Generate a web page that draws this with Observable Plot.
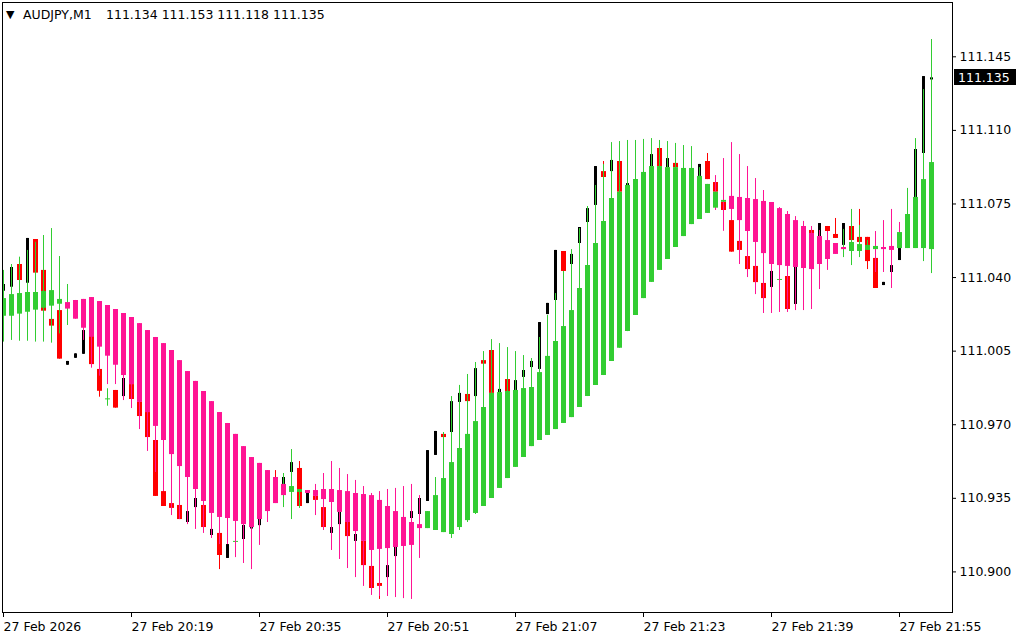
<!DOCTYPE html>
<html><head><meta charset="utf-8">
<script src="https://cdn.jsdelivr.net/npm/d3@7"></script>
<script src="https://cdn.jsdelivr.net/npm/@observablehq/plot@0.6"></script>
<style>
html,body{margin:0;padding:0;background:#fff;}
#chart{position:relative;width:1024px;height:640px;}
</style></head><body><div id="chart"></div>
<script>
const symbol = "AUDJPY,M1";
const timeLabels = ["27 Feb 2026","27 Feb 20:19","27 Feb 20:35","27 Feb 20:51","27 Feb 21:07","27 Feb 21:23","27 Feb 21:39","27 Feb 21:55"];
const timeLabelBars = [0,16,32,48,64,80,96,112];
const priceTicks = [110.900,110.935,110.970,111.005,111.040,111.075,111.110,111.145];

// M1 candles (one per minute, 20:03 .. 21:59)
const candleOpen = [
111.0335,111.0354,111.0462,111.0373,111.0581,111.0434,111.0201,111.0243,110.9983,111.0016,
111.0035,111.0148,110.9963,110.9823,110.9863,110.9834,110.9891,110.9806,110.9758,110.9625,
110.9382,110.9325,110.9316,110.9235,110.9306,110.9316,110.9173,110.9183,110.9064,110.9145,
110.9154,110.9204,110.9220,110.9300,110.9440,110.9416,110.9473,110.9492,110.9325,110.9359,
110.9306,110.9183,110.9225,110.9235,110.9145,110.9145,110.9026,110.8945,110.8973,110.9073,
110.9125,110.9254,110.9273,110.9335,110.9554,110.9654,110.9663,110.9806,110.9844,110.9834,
111.0005,111.0053,110.9853,110.9915,110.9863,110.9925,110.9972,110.9963,111.0224,111.0291,
111.0524,111.0462,111.0562,111.0662,111.0743,111.0904,111.0904,111.0952,111.0838,111.0835,
111.0860,111.0928,111.1014,111.0923,111.0943,111.0910,111.0890,111.0881,111.0952,111.0852,
111.0758,111.0671,111.0572,111.0500,111.0453,111.0372,111.0353,111.0391,111.0405,111.0272,
111.0450,111.0624,111.0595,111.0643,111.0605,111.0553,111.0643,111.0591,111.0591,111.0491,
111.0362,111.0424,111.0481,111.0540,111.0781,111.0990,111.134];
const candleClose = [
111.0367,111.0448,111.0386,111.0586,111.0421,111.0240,111.0169,111.0012,111.0001,111.0037,
111.0148,110.9986,110.9859,110.9823,110.9779,110.9920,110.9820,110.9739,110.9639,110.9359,
110.9311,110.9302,110.9249,110.9287,110.9349,110.9211,110.9202,110.9078,110.9130,110.9145,
110.9221,110.9211,110.9300,110.9400,110.9360,110.9449,110.9520,110.9311,110.9373,110.9340,
110.9211,110.9211,110.9283,110.9168,110.9178,110.9030,110.8921,110.8931,110.9030,110.9116,
110.9200,110.9287,110.9349,110.9577,110.9668,110.9639,110.9810,110.9849,110.9810,110.9967,
110.9988,110.9849,110.9868,110.9858,110.9910,110.9958,111.0001,111.0186,111.0277,111.0529,
111.0429,111.0510,111.0638,111.0728,111.0928,111.0876,111.0957,111.0806,111.0847,111.0860,
111.0890,111.0985,111.0928,111.0966,111.0923,111.0880,111.0840,111.0938,111.0866,111.0806,
111.0719,111.0521,111.0529,111.0438,111.0376,111.0300,111.0429,111.0391,111.0248,111.0448,
111.0500,111.0550,111.0657,111.0619,111.0586,111.0657,111.0576,111.0567,111.0476,111.0348,
111.0377,111.0457,111.0538,111.0680,111.1009,111.1356,111.135];
// null: the wick does not reach beyond the body
const candleHigh = [
null,null,null,null,null,null,null,null,null,null,
null,null,null,110.9871,null,null,null,null,null,null,
null,null,null,null,null,null,null,null,null,null,
null,null,null,null,110.9482,null,null,110.9525,null,null,
null,null,null,null,null,null,null,null,null,null,
null,null,null,null,null,null,null,null,null,null,
null,null,null,null,null,null,null,null,null,null,
null,null,null,null,null,111.0952,null,null,null,null,
null,null,null,null,null,null,null,null,111.0990,null,
null,null,null,null,null,null,null,null,null,null,
null,null,null,null,111.0681,null,null,111.0724,null,null,
null,null,null,null,null,null,111.153];
const candleLow = [
null,null,null,null,null,null,null,null,null,null,
null,null,110.9831,110.9788,null,null,null,null,null,null,
null,null,null,null,null,null,null,110.9011,null,null,
null,null,null,null,null,null,null,null,null,null,
null,null,null,null,null,null,null,110.8869,null,null,
null,null,null,null,null,null,null,null,null,null,
null,null,null,null,null,null,null,null,null,null,
null,null,null,null,null,null,null,null,null,null,
null,null,null,null,null,null,null,null,null,null,
null,null,null,null,null,null,null,null,null,null,
null,null,null,null,null,null,null,null,111.0438,null,
null,null,null,null,null,null,111.118];

// Heiken Ashi (smoothed) overlay
const haOpen = [
111.0216,111.0216,111.0226,111.0235,111.0245,111.0254,111.0264,111.0273,111.0281,111.0291,
111.0296,111.0305,111.0286,111.0267,111.0248,111.0229,111.0210,111.0181,111.0148,111.0115,
111.0086,111.0053,111.0005,110.9953,110.9906,110.9858,110.9810,110.9758,110.9706,110.9654,
110.9596,110.9544,110.9516,110.9482,110.9449,110.9416,110.9378,110.9378,110.9387,110.9387,
110.9392,110.9392,110.9387,110.9382,110.9373,110.9368,110.9363,110.9340,110.9311,110.9287,
110.9259,110.9235,110.9225,110.9206,110.9197,110.9187,110.9178,110.9211,110.9244,110.9278,
110.9311,110.9349,110.9397,110.9444,110.9497,110.9544,110.9596,110.9625,110.9649,110.9677,
110.9706,110.9734,110.9782,110.9834,110.9887,110.9934,111.0001,111.0064,111.0143,111.0220,
111.0300,111.0377,111.0434,111.0486,111.0543,111.0595,111.0652,111.0676,111.0705,111.0730,
111.0758,111.0786,111.0781,111.0776,111.0771,111.0762,111.0757,111.0728,111.0700,111.0671,
111.0643,111.0610,111.0595,111.0576,111.0562,111.0543,111.0524,111.0524,111.0529,111.0533,
111.0543,111.0548,111.0538,111.0538,111.0538,111.0538,111.0533];
const haClose = [
111.0300,111.0319,111.0324,111.0329,111.0329,111.0334,111.0338,111.0296,111.0250,111.0202,
111.0159,111.0116,111.0069,111.0026,110.9983,110.9934,110.9891,110.9806,110.9758,110.9692,
110.9625,110.9558,110.9501,110.9449,110.9392,110.9335,110.9278,110.9259,110.9254,110.9240,
110.9225,110.9211,110.9249,110.9287,110.9325,110.9363,110.9406,110.9392,110.9373,110.9359,
110.9344,110.9330,110.9283,110.9235,110.9192,110.9145,110.9102,110.9107,110.9111,110.9116,
110.9121,110.9126,110.9206,110.9287,110.9363,110.9444,110.9520,110.9587,110.9654,110.9715,
110.9782,110.9849,110.9853,110.9858,110.9863,110.9872,110.9877,110.9948,111.0025,111.0096,
111.0167,111.0243,111.0348,111.0457,111.0562,111.0667,111.0776,111.0806,111.0838,111.0866,
111.0900,111.0928,111.0928,111.0923,111.0923,111.0919,111.0919,111.0881,111.0843,111.0806,
111.0767,111.0724,111.0671,111.0619,111.0567,111.0514,111.0462,111.0457,111.0453,111.0448,
111.0443,111.0438,111.0462,111.0486,111.0510,111.0533,111.0567,111.0557,111.0553,111.0548,
111.0533,111.0529,111.0614,111.0700,111.0781,111.0866,111.0947];
const haHigh = [
111.0434,111.0462,111.0497,111.0529,111.0568,111.0600,111.0633,111.0500,111.0367,111.0291,
111.0296,111.0305,111.0286,111.0267,111.0248,111.0229,111.0210,111.0181,111.0148,111.0115,
111.0086,111.0053,111.0005,110.9953,110.9906,110.9858,110.9810,110.9758,110.9706,110.9654,
110.9596,110.9544,110.9516,110.9482,110.9449,110.9468,110.9582,110.9392,110.9387,110.9416,
110.9468,110.9525,110.9492,110.9463,110.9435,110.9406,110.9373,110.9382,110.9392,110.9397,
110.9406,110.9416,110.9363,110.9287,110.9449,110.9663,110.9834,110.9887,110.9939,110.9996,
111.0048,111.0105,111.0086,111.0067,111.0048,111.0029,111.0015,111.0115,111.0220,111.0324,
111.0429,111.0533,111.0633,111.0738,111.0838,111.0938,111.1042,111.1047,111.1052,111.1052,
111.1057,111.1061,111.1052,111.1047,111.1038,111.1028,111.1023,111.0923,111.0843,111.0885,
111.0966,111.1042,111.0985,111.0928,111.0871,111.0814,111.0757,111.0733,111.0714,111.0690,
111.0667,111.0643,111.0624,111.0619,111.0562,111.0629,111.0724,111.0648,111.0576,111.0619,
111.0671,111.0724,111.0662,111.0824,111.1061,111.1294,111.1532];
const haLow = [
111.0093,111.0101,111.0097,111.0097,111.0093,111.0093,111.0088,111.0132,111.0172,111.0202,
111.0101,110.9969,110.9931,110.9891,110.9891,110.9815,110.9777,110.9677,110.9573,110.9473,
110.9382,110.9268,110.9249,110.9225,110.9202,110.9183,110.9159,110.9130,110.9130,110.9068,
110.9040,110.9011,110.9126,110.9235,110.9325,110.9306,110.9249,110.9302,110.9373,110.9268,
110.9197,110.9102,110.9059,110.9016,110.8973,110.8931,110.8888,110.8883,110.8883,110.8878,
110.8873,110.8869,110.9064,110.9206,110.9197,110.9187,110.9159,110.9197,110.9235,110.9273,
110.9311,110.9349,110.9397,110.9444,110.9497,110.9544,110.9596,110.9625,110.9649,110.9677,
110.9706,110.9734,110.9782,110.9834,110.9887,110.9934,111.0001,111.0064,111.0143,111.0220,
111.0300,111.0377,111.0434,111.0486,111.0543,111.0595,111.0652,111.0676,111.0705,111.0719,
111.0620,111.0671,111.0462,111.0400,111.0319,111.0229,111.0229,111.0234,111.0234,111.0243,
111.0243,111.0248,111.0343,111.0434,111.0510,111.0495,111.0457,111.0495,111.0529,111.0424,
111.0424,111.0348,111.0538,111.0538,111.0538,111.0476,111.0419];
// wick colour of the overlay per bar: g = green, p = pink
const haWick = "ggggggggg" + "pppppppppp" + "pppppppppp" + "pppppp" + "ggg" +
  "ppppppppppppppp" + "gggggggggg" + "gggggggggg" + "gggggggggg" + "gggggg" +
  "pppppppppppppppp" + "gggg" + "pppp" + "gggg";

const GREEN = "#32cd32", PINK = "#ff1493", RED = "#ff0000", BLACK = "#000000";

const bars = candleOpen.map((o, i) => {
  const c = candleClose[i];
  return {
    i, o, c,
    h: candleHigh[i] ?? Math.max(o, c),
    l: candleLow[i] ?? Math.min(o, c),
    ho: haOpen[i], hc: haClose[i], hh: haHigh[i], hl: haLow[i],
    wick: haWick[i] === "g" ? GREEN : PINK
  };
});
const up = bars.filter(d => d.c > d.o);
const down = bars.filter(d => d.c < d.o);
const doji = bars.filter(d => d.c === d.o);

const chart = Plot.plot({
  width: 1024, height: 640,
  marginLeft: 2, marginRight: 72, marginTop: 2, marginBottom: 28,
  style: {fontFamily: "DejaVu Sans", fontSize: "12.5px", background: "#fff", color: "#000", overflow: "visible"},
  x: {type: "linear", domain: [-0.125, 118.625]},
  y: {type: "linear", domain: [110.88069, 111.17083]},
  marks: [
    Plot.ruleX(up, {x: "i", y1: "h", y2: "l", stroke: BLACK, strokeWidth: 1, clip: true}),
    Plot.ruleX(down, {x: "i", y1: "h", y2: "l", stroke: RED, strokeWidth: 1, clip: true}),
    Plot.ruleX(doji, {x: "i", y1: "h", y2: "l", stroke: GREEN, strokeWidth: 1, clip: true}),
    Plot.ruleX(up, {x: "i", y1: "o", y2: "c", stroke: BLACK, strokeWidth: 3, clip: true}),
    Plot.ruleX(down, {x: "i", y1: "o", y2: "c", stroke: RED, strokeWidth: 5, clip: true}),
    Plot.ruleY(doji, {y: "o", x1: d => d.i - 0.25, x2: d => d.i + 0.375, stroke: GREEN, clip: true}),
    Plot.ruleX(bars, {x: "i", y1: "hh", y2: "hl", stroke: d => d.wick, strokeWidth: 1, clip: true}),
    Plot.ruleX(bars, {x: "i", y1: "ho", y2: "hc", stroke: d => d.hc > d.ho ? GREEN : PINK, strokeWidth: 5, clip: true}),
    Plot.frame({stroke: "#000"}),
    Plot.axisY({anchor: "right", ticks: priceTicks, tickFormat: d3.format(".3f"), tickSize: 3, tickPadding: 4, label: null}),
    Plot.axisX({anchor: "bottom", ticks: timeLabelBars, tickFormat: d => timeLabels[timeLabelBars.indexOf(d)],
      tickSize: 5, tickPadding: 5, textAnchor: "start", label: null})
  ]
});
document.getElementById("chart").appendChild(chart);

// header and current price label
const svg = d3.select(chart);
const last = bars[bars.length - 1];
const fmt = d3.format(".3f");
const yScale = chart.scale("y");
const yl = Math.round(yScale.apply(last.c));
const box = svg.append("g").attr("text-anchor", "start");
box.append("rect").attr("x", 954).attr("y", yl - 8).attr("width", 62).attr("height", 16).attr("fill", "#000");
box.append("text").attr("x", 958).attr("y", yl + 4.5).attr("fill", "#fff").attr("text-anchor", "start")
  .attr("font-family", "DejaVu Sans").attr("font-size", 12.5).text(fmt(last.c));
const head = svg.append("g").attr("font-family", "DejaVu Sans").attr("fill", "#000").attr("text-anchor", "start");
head.append("text").attr("x", 6).attr("y", 17.5).attr("font-size", 11).attr("text-anchor", "start").text("▼");
head.append("text").attr("x", 23).attr("y", 18.5).attr("font-size", 12.5).attr("text-anchor", "start").text(symbol);
head.append("text").attr("x", 106).attr("y", 18.5).attr("font-size", 12.5).attr("text-anchor", "start")
  .text([last.o, last.h, last.l, last.c].map(fmt).join(" "));
</script>
</body></html>
